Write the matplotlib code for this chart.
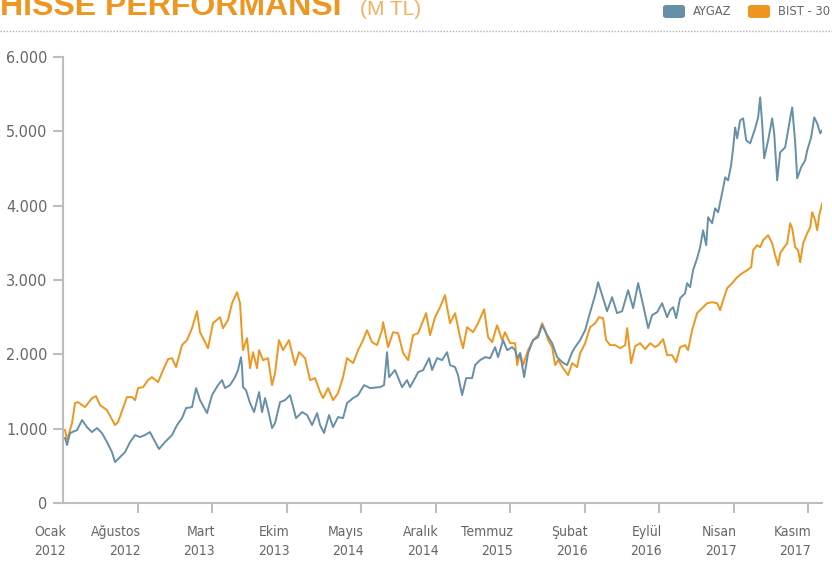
import matplotlib.pyplot as plt
import matplotlib.transforms as mtransforms
from matplotlib.patches import FancyBboxPatch
from matplotlib.lines import Line2D

# months since Ocak 2012 and values (M TL)
aygaz_month = [0.19, 0.38, 0.66, 1.32, 1.79, 2.25, 2.72, 3.19, 3.66, 4.13, 4.60, 4.89, 5.36, 5.83,
               6.30, 6.77, 7.24, 7.70, 8.17, 8.46, 9.02, 9.58, 10.24, 10.71, 11.18, 11.56, 12.12,
               12.50, 12.87, 13.53, 14.00, 14.56, 14.94, 15.22, 15.69, 16.16, 16.44, 16.72, 16.82,
               16.91, 17.19, 17.57, 17.95, 18.42, 18.70, 18.98, 19.26, 19.64, 19.92, 20.39, 20.86,
               21.33, 21.89, 22.46, 22.93, 23.40, 23.87, 24.15, 24.52, 24.99, 25.37, 25.84, 26.31,
               26.68, 27.25, 27.72, 28.28, 28.85, 29.79, 30.16, 30.44, 30.63, 31.19, 31.85, 32.32,
               32.60, 33.07, 33.36, 33.83, 34.39, 34.67, 35.14, 35.61, 36.08, 36.36, 36.83, 37.11,
               37.49, 37.87, 38.43, 38.71, 39.18, 39.65, 40.12, 40.59, 40.87, 41.34, 41.72, 42.19,
               42.47, 42.66, 42.94, 43.32, 43.69, 44.16, 44.63, 45.01, 45.48, 45.95, 46.42, 46.89,
               47.36, 47.83, 48.11, 48.58, 49.05, 49.52, 49.99, 50.27, 50.64, 51.11, 51.58, 52.05,
               52.52, 53.09, 53.56, 54.03, 54.50, 54.97, 55.34, 55.81, 56.28, 56.75, 57.03, 57.32,
               57.60, 57.97, 58.44, 58.63, 58.91, 59.19, 59.57, 59.85, 60.13, 60.42, 60.60, 60.98,
               61.26, 61.54, 62.01, 62.20, 62.48, 62.76, 62.95, 63.14, 63.33, 63.61, 63.89, 64.18,
               64.55, 65.02, 65.30, 65.49, 65.68, 65.87, 66.24, 66.62, 66.81, 67.09, 67.37, 67.84,
               68.31, 68.50, 68.78, 68.97, 69.34, 69.72, 69.91, 70.28, 70.57, 70.85, 71.13, 71.32]
aygaz = [874, 780, 941, 981, 1116, 1021, 954, 1008, 941, 820, 685, 551, 618, 685,
         820, 914, 887, 914, 954, 874, 726, 820, 914, 1048, 1142, 1277, 1290,
         1546, 1384, 1210, 1452, 1586, 1653, 1546, 1586, 1693, 1788, 1962, 1828,
         1559, 1519, 1344, 1223, 1492, 1223, 1411, 1250, 1008, 1075, 1357, 1384,
         1452, 1142, 1223, 1183, 1048, 1210, 1048, 941, 1183, 1021, 1156, 1142,
         1344, 1411, 1452, 1586, 1546, 1559, 1586, 2029, 1693, 1788, 1559, 1653,
         1559, 1680, 1761, 1788, 1949, 1788, 1949, 1922, 2029, 1855, 1828, 1720,
         1452, 1680, 1680, 1855, 1922, 1962, 1949, 2097, 1962, 2191, 2056, 2097,
         2056, 1949, 2016, 1693, 2016, 2191, 2231, 2392, 2258, 2150, 1962, 1895,
         1855, 2029, 2097, 2191, 2325, 2567, 2796, 2970, 2796, 2580, 2769, 2554,
         2580, 2863, 2621, 2957, 2661, 2352, 2527, 2567, 2688, 2500, 2594, 2634,
         2486, 2755, 2822, 2957, 2903, 3132, 3293, 3441, 3669, 3468, 3844, 3763,
         3965, 3911, 4234, 4381, 4341, 4543, 4771, 5053, 4906, 5148, 5174, 4879,
         4838, 5040, 5188, 5457, 5107, 4637, 4879, 5174, 4973, 4341, 4717, 4785,
         5174, 5322, 4852, 4368, 4516, 4610, 4744, 4919, 5188, 5107, 4973, 5013]

bist_month = [0.19, 0.38, 0.85, 1.13, 1.41, 1.79, 2.07, 2.72, 3.10, 3.48, 4.13, 4.89, 5.17, 6.01,
              6.48, 6.77, 7.05, 7.52, 7.99, 8.36, 8.93, 9.40, 9.87, 10.24, 10.62, 11.18, 11.65,
              12.12, 12.59, 12.87, 13.25, 13.62, 14.09, 14.75, 15.03, 15.50, 15.88, 16.35, 16.63,
              16.82, 16.91, 17.29, 17.57, 17.85, 18.23, 18.42, 18.79, 19.26, 19.64, 19.92, 20.29,
              20.67, 21.23, 21.80, 22.17, 22.74, 23.21, 23.68, 24.15, 24.43, 24.90, 25.37, 25.84,
              26.31, 26.68, 27.25, 27.72, 28.19, 28.56, 29.03, 29.50, 29.97, 30.07, 30.54, 31.01,
              31.48, 31.95, 32.42, 32.89, 33.36, 33.73, 34.11, 34.48, 34.95, 35.42, 35.89, 36.08,
              36.36, 36.83, 37.30, 37.58, 37.96, 38.52, 38.99, 39.56, 39.93, 40.31, 40.78, 41.25,
              41.53, 42.00, 42.47, 42.66, 42.94, 43.22, 43.69, 44.16, 44.63, 45.01, 45.29, 45.57,
              45.95, 46.23, 46.51, 46.98, 47.45, 47.83, 48.29, 48.58, 49.05, 49.52, 49.99, 50.36,
              50.74, 51.02, 51.40, 51.87, 52.34, 52.81, 53.00, 53.37, 53.75, 54.22, 54.69, 55.16,
              55.62, 55.91, 56.38, 56.75, 57.22, 57.60, 57.97, 58.44, 58.72, 59.10, 59.57, 60.04,
              60.51, 60.98, 61.45, 61.73, 62.01, 62.39, 62.86, 63.33, 63.80, 64.27, 64.65, 64.83,
              65.21, 65.49, 65.77, 66.24, 66.62, 66.90, 67.18, 67.37, 67.75, 68.03, 68.31, 68.50,
              68.78, 69.06, 69.25, 69.53, 69.91, 70.19, 70.38, 70.66, 70.85, 71.04, 71.32]
bist = [981, 847, 1075, 1344, 1357, 1317, 1290, 1411, 1438, 1317, 1250, 1048, 1089, 1425,
        1425, 1384, 1546, 1559, 1653, 1693, 1626, 1788, 1935, 1949, 1828, 2124, 2191,
        2352, 2580, 2298, 2191, 2083, 2419, 2500, 2352, 2460, 2688, 2836, 2688,
        2231, 2056, 2218, 1814, 2029, 1814, 2056, 1922, 1949, 1586, 1747, 2191,
        2056, 2191, 1855, 2029, 1949, 1653, 1680, 1492, 1411, 1546, 1384, 1478,
        1693, 1949, 1882, 2056, 2191, 2325, 2164, 2124, 2325, 2433, 2097, 2298,
        2285, 2016, 1922, 2258, 2285, 2419, 2554, 2258, 2500, 2634, 2796, 2634,
        2419, 2554, 2231, 2083, 2365, 2298, 2419, 2607, 2231, 2164, 2392, 2191,
        2298, 2150, 2150, 1855, 2016, 1855, 2056, 2191, 2258, 2419, 2325, 2191,
        2097, 1855, 1922, 1814, 1720, 1882, 1828, 2016, 2150, 2365, 2419, 2500,
        2486, 2191, 2124, 2124, 2083, 2124, 2352, 1882, 2110, 2150, 2070, 2150,
        2097, 2124, 2204, 1989, 1989, 1895, 2097, 2124, 2056, 2325, 2554, 2621,
        2688, 2701, 2688, 2594, 2728, 2890, 2957, 3037, 3091, 3132, 3172, 3400,
        3468, 3441, 3535, 3602, 3494, 3333, 3199, 3360, 3441, 3494, 3763, 3696,
        3441, 3400, 3239, 3494, 3629, 3709, 3911, 3804, 3669, 3871, 4032]

tick_months = [0, 7, 14, 21, 28, 35, 42, 49, 56, 63, 70]
tick_labels = ["Ocak\n2012", "Ağustos\n2012", "Mart\n2013", "Ekim\n2013", "Mayıs\n2014",
               "Aralık\n2014", "Temmuz\n2015", "Şubat\n2016", "Eylül\n2016", "Nisan\n2017",
               "Kasım\n2017"]
y_ticks = [0, 1000, 2000, 3000, 4000, 5000, 6000]
y_labels = ["0", "1.000", "2.000", "3.000", "4.000", "5.000", "6.000"]

blue = "#6690a7"
orange = "#ee961f"
gray_txt = "#666666"
axis_gray = "#bdbdbd"
narrow = dict(fontfamily="DejaVu Sans", fontstretch="condensed")

fig = plt.figure(figsize=(8.32, 5.67), dpi=100)
ax = fig.add_axes([63 / 832, 64 / 567, 759 / 832, 446 / 567])

ax.plot(bist_month, bist, color=orange, lw=1.4)
ax.plot(aygaz_month, aygaz, color=blue, lw=1.4)

ax.set_xlim(0, 71.3)
ax.set_ylim(0, 6000)
for s in ["top", "right"]:
    ax.spines[s].set_visible(False)
for s in ["left", "bottom"]:
    ax.spines[s].set_color(axis_gray)
    ax.spines[s].set_linewidth(1.5)

ax.set_xticks(tick_months)
ax.set_xticklabels(tick_labels, ha="right", multialignment="right", linespacing=1.4,
                   fontsize=10, color=gray_txt, **narrow)
ax.set_yticks(y_ticks)
ax.set_yticklabels(y_labels, fontsize=11.5, color=gray_txt, **narrow)
ax.tick_params(axis="both", colors=axis_gray, length=7, width=1.5, labelcolor=gray_txt)
ax.tick_params(axis="x", pad=9)
ax.tick_params(axis="y", pad=4)
# right edge of tick labels a bit past the tick
off = mtransforms.ScaledTranslation(3 / 100, 0, fig.dpi_scale_trans)
for lbl in ax.get_xticklabels():
    lbl.set_transform(lbl.get_transform() + off)
ax.xaxis.get_major_ticks()[0].tick1line.set_visible(False)

# title (cut at the top like in the source)
fig.text(0.0, 1 - 15 / 567, "HISSE PERFORMANSI", color=orange, fontsize=23, fontweight="bold",
         fontfamily=["Liberation Sans", "DejaVu Sans"], va="baseline", ha="left")
fig.text(360 / 832, 1 - 15 / 567, "(M TL)", color="#f2b060", fontsize=15,
         fontfamily=["Liberation Sans", "DejaVu Sans"], va="baseline", ha="left")

# dotted line under title
fig.add_artist(Line2D([0, 1], [1 - 31 / 567, 1 - 31 / 567], transform=fig.transFigure,
                      color="#b0b0b0", lw=1, linestyle=(0, (1, 1.2))))

# legend
for x0, col, name in [(663, blue, "AYGAZ"), (748, orange, "BIST - 30")]:
    fig.add_artist(FancyBboxPatch((x0 / 832, 1 - 18 / 567), 22 / 832, 13 / 567,
                                  boxstyle="round,pad=0,rounding_size=0.004",
                                  transform=fig.transFigure, facecolor=col, edgecolor="none"))
    fig.text((x0 + 30) / 832, 1 - 11.5 / 567, name, color=gray_txt, fontsize=9.3,
             va="center", ha="left", **narrow)

fig.savefig("out.png", dpi=100)
